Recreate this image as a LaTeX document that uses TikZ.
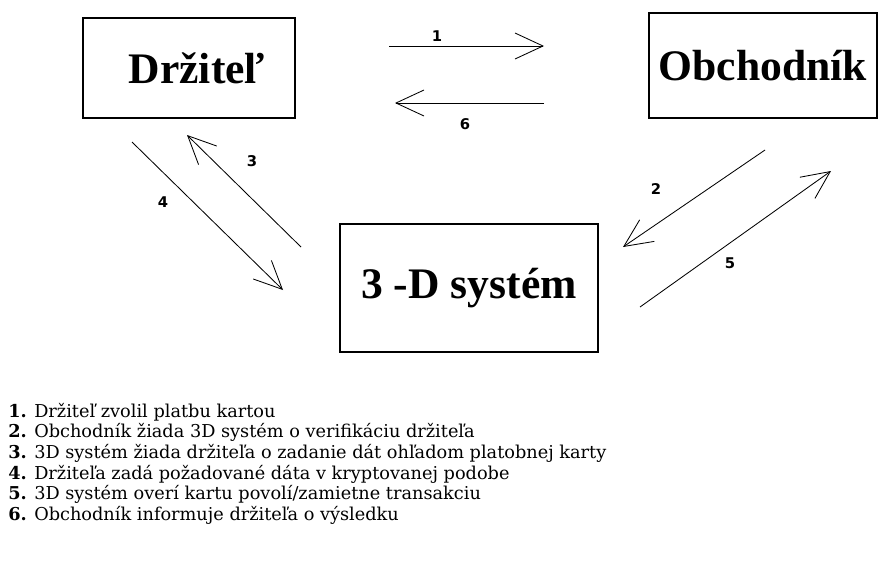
\documentclass[tikz,border=0pt]{standalone}
\usepackage{fontspec}
\setmainfont{DejaVu Serif}
\newfontfamily\boxfont{Liberation Serif}
\newfontfamily\numfont{DejaVu Sans}
\usetikzlibrary{arrows.meta}

\tikzset{
  party/.style={draw,line width=1pt,inner sep=0pt,font=\boxfont\fontsize{31}{36}\selectfont\bfseries},
  msg/.style={->,line width=0.6pt},
  num/.style={font=\numfont\fontsize{10.5}{12}\selectfont\bfseries},
  legend/.style={anchor=base west,inner sep=0pt,font=\fontsize{12.6}{14}\selectfont}
}

\begin{document}
\begin{tikzpicture}[x=0.025cm,y=-0.025cm,>={Straight Barb[length=0.7cm,width=0.65cm]}]
        \useasboundingbox (0,0) rectangle (879,574);
        % uzly
        \node[party,minimum width=5.3cm,minimum height=2.5cm] (drz)  at (189,68)    {\hspace*{0.4cm}Držiteľ};
        \node[party,minimum width=5.7cm,minimum height=2.62cm] (obch) at (763,65.5) {Obchodník};
        \node[party,minimum width=6.45cm,minimum height=3.2cm] (sys)  at (469,288)  {3 -D systém};
        % konce sipok
        \coordinate (m1a) at (389,46);  \coordinate (m1b) at (544,46);
        \coordinate (m6a) at (544,103); \coordinate (m6b) at (395,103);
        \coordinate (m3a) at (301,247); \coordinate (m3b) at (187,135);
        \coordinate (m4a) at (132,142); \coordinate (m4b) at (283,290);
        \coordinate (m2a) at (765,150); \coordinate (m2b) at (623,247);
        \coordinate (m5a) at (640,307); \coordinate (m5b) at (831,171);
        % sipky
        \draw[msg] (m1a) -- (m1b);
        \draw[msg] (m6a) -- (m6b);
        \draw[msg] (m3a) -- (m3b);
        \draw[msg] (m4a) -- (m4b);
        \draw[msg] (m2a) -- (m2b);
        \draw[msg] (m5a) -- (m5b);
        % cisla
        \node[num] (n1) at (437,36)  {1};
        \node[num] (n6) at (465,124) {6};
        \node[num] (n3) at (252,161) {3};
        \node[num] (n4) at (163,202) {4};
        \node[num] (n2) at (656,189) {2};
        \node[num] (n5) at (730,263) {5};
        % legenda
        \node[legend] (l1) at (8,417)   {\textbf{1.} Držiteľ zvolil platbu kartou};
        \node[legend] (l2) at (8,437.7) {\textbf{2.} Obchodník žiada 3D systém o verifikáciu držiteľa};
        \node[legend] (l3) at (8,458.4) {\textbf{3.} 3D systém žiada držiteľa o zadanie dát ohľadom platobnej karty};
        \node[legend] (l4) at (8,479.1) {\textbf{4.} Držiteľa zadá požadované dáta v kryptovanej podobe};
        \node[legend] (l5) at (8,499.8) {\textbf{5.} 3D systém overí kartu povolí/zamietne transakciu};
        \node[legend] (l6) at (8,520.5) {\textbf{6.} Obchodník informuje držiteľa o výsledku};
\end{tikzpicture}
\end{document}
